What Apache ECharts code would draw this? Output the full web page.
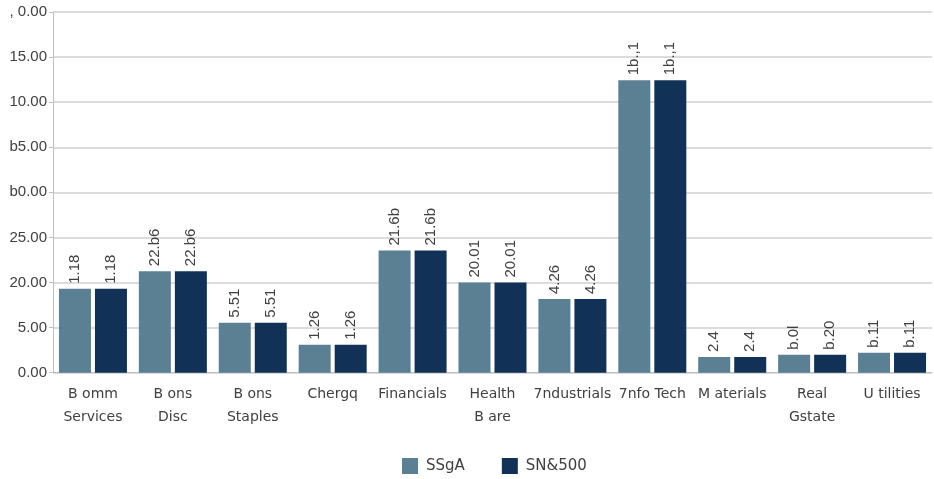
<!DOCTYPE html>
<html><head><meta charset="utf-8">
<script src="https://cdn.jsdelivr.net/npm/echarts@6/dist/echarts.min.js"></script>
<style>html,body{margin:0;padding:0;background:#fff}#c{width:934px;height:479px}</style>
</head><body><div id="c"></div>
<script>
var categories = ["B omm\nServices", "B ons\nDisc", "B ons\nStaples", "Chergq", "Financials", "Health\nB are", "7ndustrials", "7nfo Tech", "M aterials", "Real\nGstate", "U tilities"];
var seriesNames = ["SSgA", "SN&500"];
var ssgaValues = [9.3, 11.26, 5.53, 3.1, 13.55, 10.0, 8.16, 32.43, 1.75, 1.98, 2.2];
var spValues = [9.3, 11.26, 5.53, 3.1, 13.55, 10.0, 8.16, 32.43, 1.75, 1.98, 2.2];
var ssgaLabels = ["1.18", "22.b6", "5.51", "1.26", "21.6b", "20.01", "4.26", "1b.,1", "2.4", "b.0l", "b.11"];
var spLabels = ["1.18", "22.b6", "5.51", "1.26", "21.6b", "20.01", "4.26", "1b.,1", "2.4", "b.20", "b.11"];
var yTickValues = [0, 5, 10, 15, 20, 25, 30, 35, 40];
var yTickLabels = ["0.00", "5.00", "20.00", "25.00", "b0.00", "b5.00", "10.00", "15.00", ", 0.00"];

var FONT = "DejaVu Sans";
var NUMFONT = "Liberation Sans";
var chart = echarts.init(document.getElementById('c'), null, {renderer: 'canvas'});
function lbl(arr) {
  return {
    show: true, position: 'top', rotate: 90, align: 'left', verticalAlign: 'middle',
    distance: 5, fontSize: 15, color: '#404040', fontFamily: NUMFONT,
    formatter: function (p) { return arr[p.dataIndex]; }
  };
}
chart.setOption({
  animation: false,
  grid: {left: 53, right: 2, top: 12, bottom: 106.3, containLabel: false},
  legend: {
    bottom: 0, left: 397, itemWidth: 16, itemHeight: 16, itemGap: 37,
    icon: 'rect', textStyle: {fontSize: 15, color: '#404040', fontFamily: FONT, padding: [0, 0, 0, 3]}
  },
  xAxis: {
    type: 'category', data: categories,
    axisLine: {lineStyle: {color: '#bfbfbf', width: 1}},
    axisTick: {show: false},
    axisLabel: {interval: 0, fontSize: 14, color: '#404040', fontFamily: FONT, lineHeight: 23, margin: 10}
  },
  yAxis: {
    type: 'value', min: 0, max: 40, interval: 5,
    axisLine: {show: true, lineStyle: {color: '#bfbfbf', width: 1}},
    axisTick: {show: true, length: 4, lineStyle: {color: '#bfbfbf'}},
    splitLine: {lineStyle: {color: '#d0d0d0', width: 1.5}},
    axisLabel: {
      fontSize: 15, color: '#404040', fontFamily: NUMFONT, margin: 6,
      formatter: function (v) { var i = yTickValues.indexOf(v); return i >= 0 ? yTickLabels[i] : ''; }
    }
  },
  series: [
    {name: seriesNames[0], type: 'bar', data: ssgaValues, barWidth: 32, barGap: '12.5%',
     itemStyle: {color: '#5b7f93'}, label: lbl(ssgaLabels)},
    {name: seriesNames[1], type: 'bar', data: spValues, barWidth: 32,
     itemStyle: {color: '#113256'}, label: lbl(spLabels)}
  ]
});
</script></body></html>
